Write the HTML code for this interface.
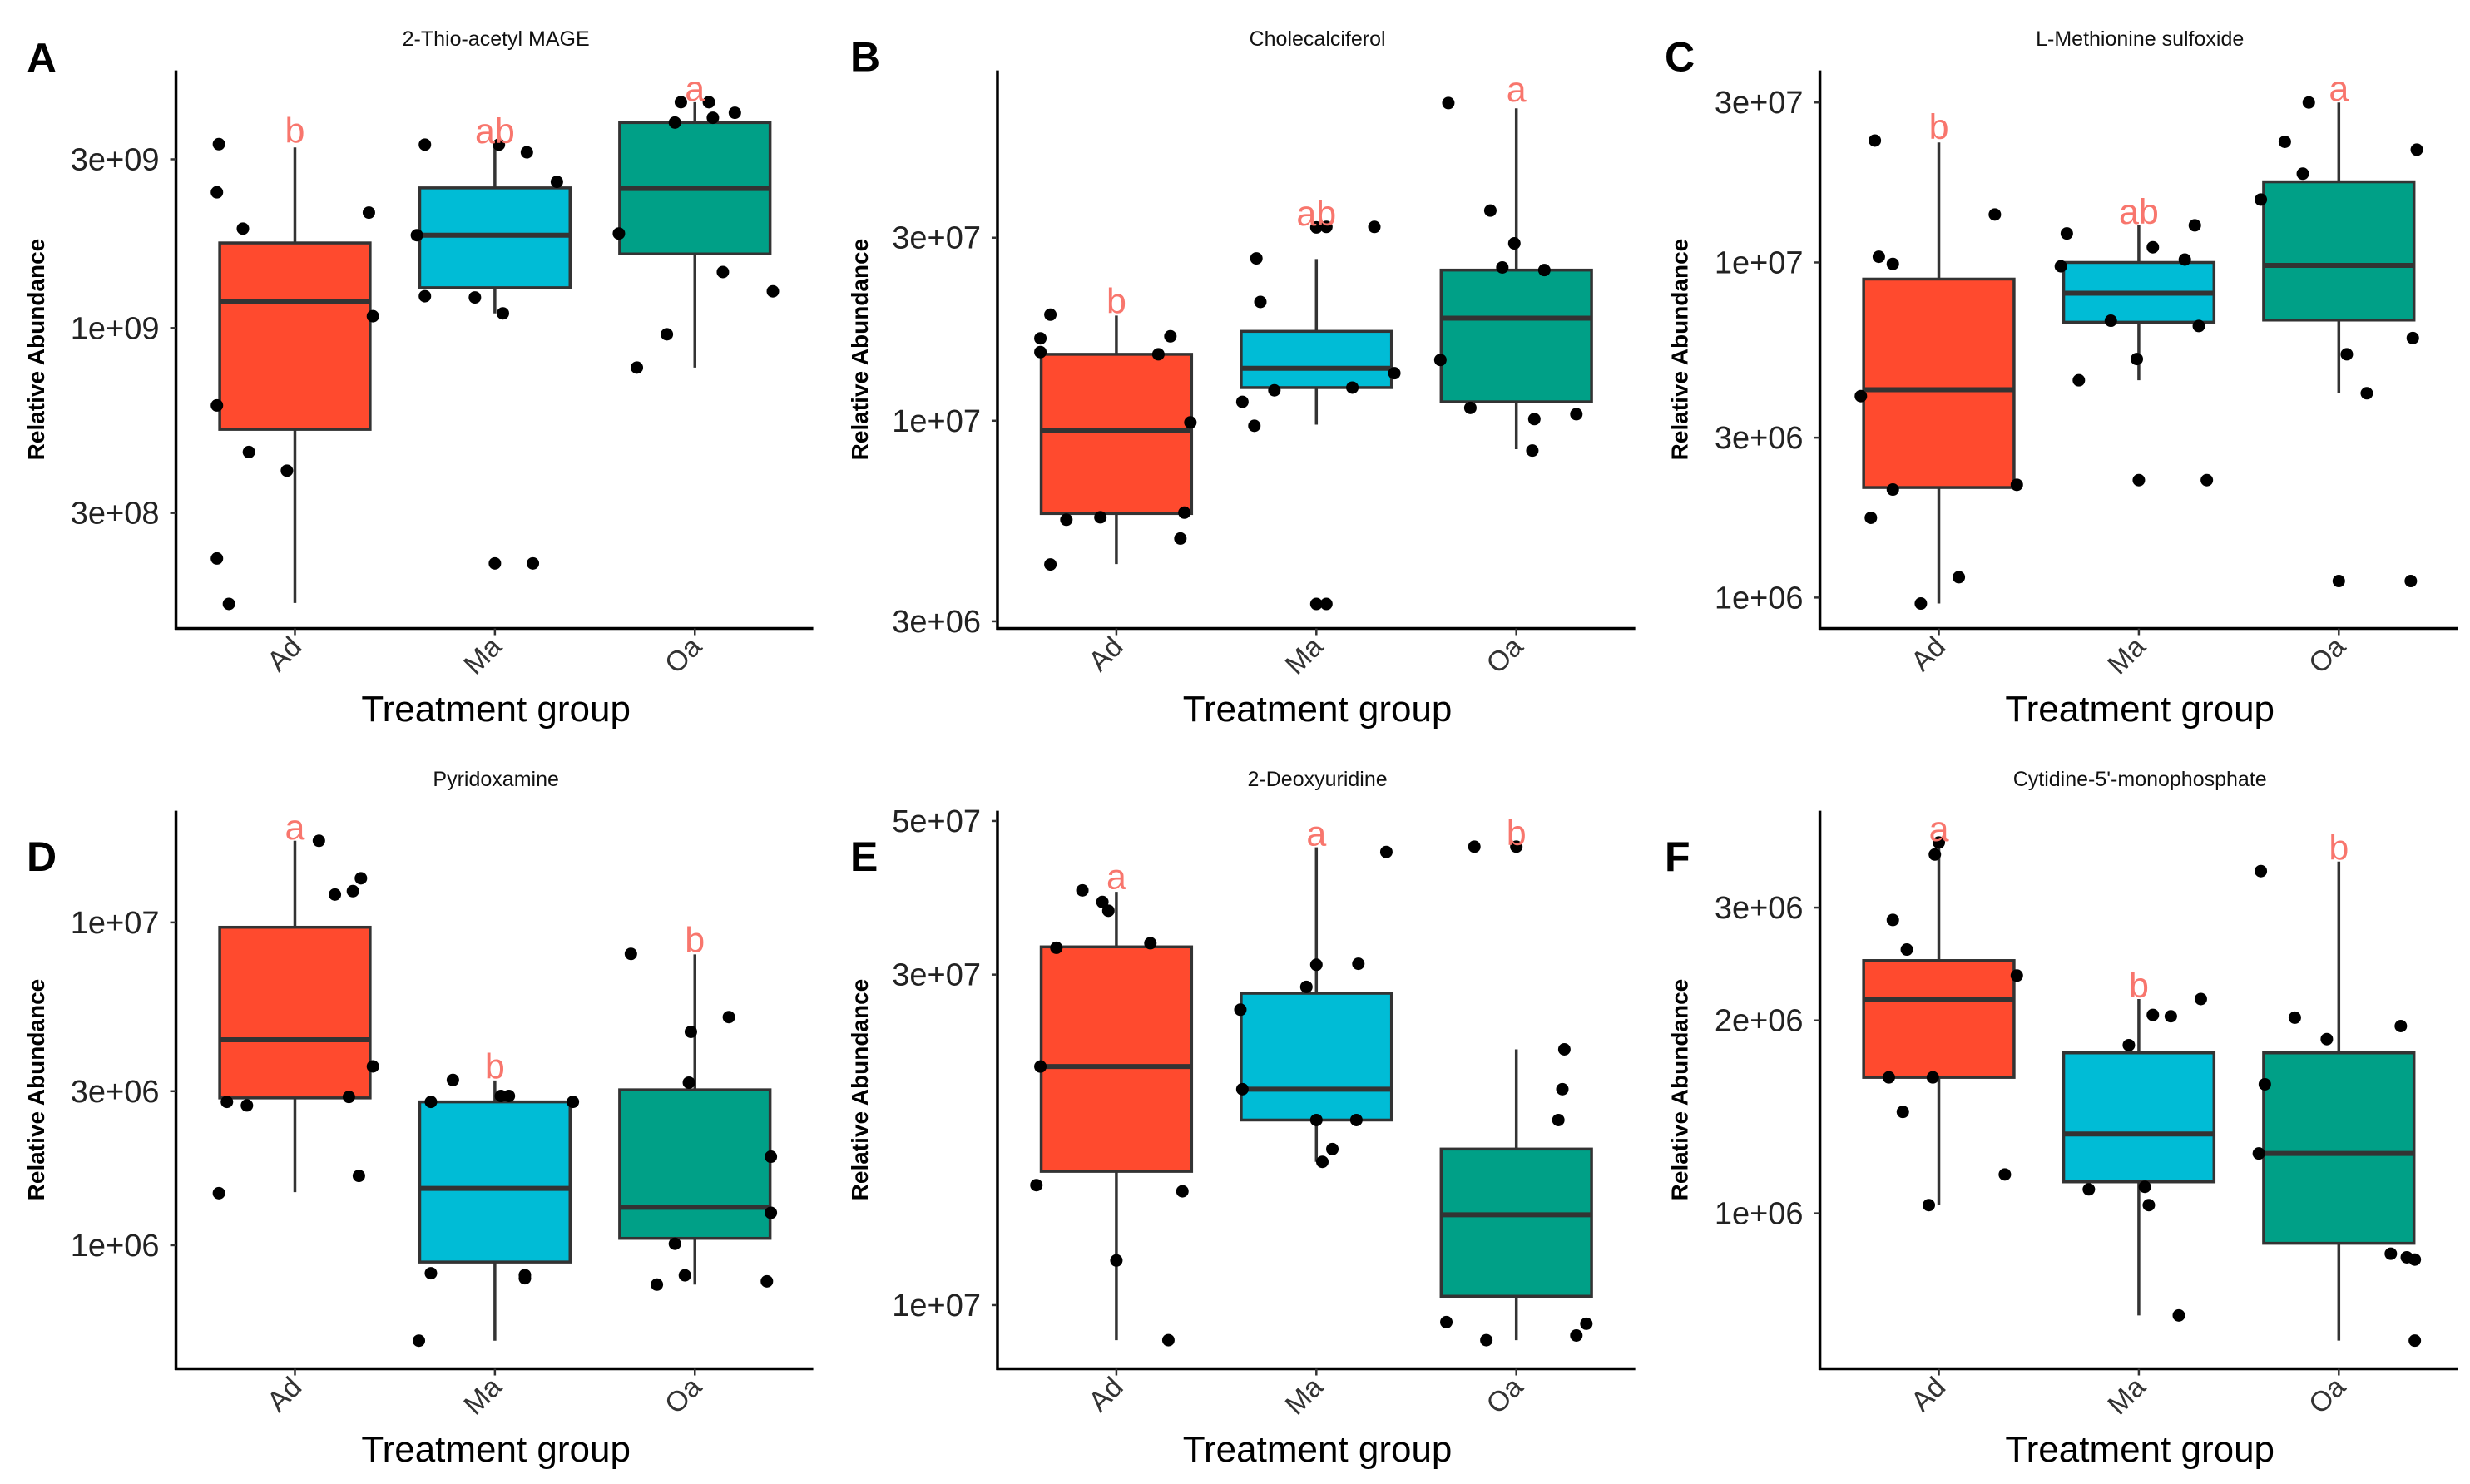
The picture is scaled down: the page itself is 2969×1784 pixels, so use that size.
<!DOCTYPE html>
<html><head><meta charset="utf-8">
<style>
html,body{margin:0;padding:0;background:#fff;}
svg{display:block;font-family:"Liberation Sans",Arial,sans-serif;}
</style></head>
<body>
<svg id="fig" width="2969" height="1784" viewBox="0 0 2969 1784" xmlns="http://www.w3.org/2000/svg"></svg>
<script>
// ---------- DATA ----------
const categories = ['Ad','Ma','Oa'];
const groupColors = ['#FF4A2E','#00BCD6','#00A087'];

// box stats per group: [whiskerLow, q1, median, q3, whiskerHigh]
const A_box = [[1.67e8,5.17e8,1.19e9,1.74e9,3.24e9],[1.10e9,1.30e9,1.83e9,2.49e9,3.24e9],[7.73e8,1.62e9,2.48e9,3.81e9,4.35e9]];
const A_ad = [3.31e9,2.42e9,1.91e9,2.12e9,1.08e9,6.04e8,4.46e8,3.95e8,2.23e8,1.66e8];
const A_ad_jit = [-0.38,-0.39,-0.26,0.37,0.39,-0.39,-0.23,-0.04,-0.39,-0.33];
const A_ma = [3.3e9,3.3e9,3.14e9,2.59e9,1.83e9,1.23e9,1.22e9,1.10e9,2.16e8,2.16e8];
const A_ma_jit = [-0.35,0.02,0.16,0.31,-0.39,-0.35,-0.10,0.04,0,0.19];
const A_oa = [4.35e9,4.35e9,4.06e9,3.93e9,3.81e9,1.85e9,1.44e9,1.27e9,9.6e8,7.73e8];
const A_oa_jit = [-0.07,0.07,0.20,0.09,-0.10,-0.38,0.14,0.39,-0.14,-0.29];
const A_sig = ['b','ab','a'];

const B_box = [[4.23e6,5.73e6,9.45e6,1.49e7,1.88e7],[9.77e6,1.22e7,1.37e7,1.71e7,2.64e7],[8.43e6,1.12e7,1.85e7,2.47e7,6.52e7]];
const B_ad = [1.89e7,1.64e7,1.51e7,1.66e7,1.49e7,9.9e6,5.52e6,5.6e6,5.76e6,4.93e6,4.22e6];
const B_ad_jit = [-0.33,-0.38,-0.38,0.27,0.21,0.37,-0.25,-0.08,0.34,0.32,-0.33];
const B_ma = [3.19e7,3.2e7,3.2e7,2.65e7,2.04e7,1.33e7,1.2e7,1.22e7,1.12e7,9.7e6,3.33e6,3.33e6];
const B_ma_jit = [0,0.05,0.29,-0.30,-0.28,0.39,-0.21,0.18,-0.37,-0.31,0,0.05];
const B_oa = [6.73e7,3.53e7,2.9e7,2.51e7,2.47e7,1.44e7,1.08e7,1.01e7,1.04e7,8.36e6];
const B_oa_jit = [-0.34,-0.13,-0.01,-0.07,0.14,-0.38,-0.23,0.09,0.30,0.08];
const B_sig = ['b','ab','a'];

const C_box = [[9.6e5,2.13e6,4.17e6,8.92e6,2.28e7],[4.45e6,6.63e6,8.09e6,1.0e7,1.29e7],[4.07e6,6.73e6,9.8e6,1.74e7,3.0e7]];
const C_ad = [2.31e7,1.39e7,1.04e7,9.9e6,3.99e6,2.1e6,2.17e6,1.73e6,1.15e6,9.6e5];
const C_ad_jit = [-0.32,0.28,-0.30,-0.23,-0.39,-0.23,0.39,-0.34,0.10,-0.09];
const C_ma = [1.22e7,1.29e7,1.11e7,1.02e7,9.74e6,6.7e6,6.46e6,5.15e6,4.45e6,2.24e6,2.24e6];
const C_ma_jit = [-0.36,0.28,0.07,0.23,-0.39,-0.14,0.30,-0.01,-0.30,0,0.34];
const C_oa = [3.0e7,2.29e7,2.17e7,1.84e7,1.54e7,5.95e6,5.32e6,4.07e6,1.12e6,1.12e6];
const C_oa_jit = [-0.15,-0.27,0.39,-0.18,-0.39,0.37,0.04,0.14,0,0.36];
const C_sig = ['b','ab','a'];

const D_box = [[1.46e6,2.86e6,4.33e6,9.66e6,1.79e7],[5.06e5,8.87e5,1.5e6,2.78e6,3.24e6],[7.55e5,1.05e6,1.31e6,3.03e6,7.96e6]];
const D_ad = [1.79e7,1.37e7,1.25e7,1.22e7,3.58e6,2.78e6,2.71e6,2.88e6,1.64e6,1.45e6];
const D_ad_jit = [0.12,0.33,0.29,0.20,0.39,-0.34,-0.24,0.27,0.32,-0.38];
const D_ma = [3.25e6,2.9e6,2.9e6,2.78e6,2.78e6,8.19e5,8.08e5,7.9e5,5.06e5];
const D_ma_jit = [-0.21,0.03,0.07,-0.32,0.39,-0.32,0.15,0.15,-0.38];
const D_oa = [7.99e6,5.09e6,4.58e6,3.19e6,1.88e6,1.26e6,1.01e6,8.07e5,7.55e5,7.73e5];
const D_oa_jit = [-0.32,0.17,-0.02,-0.03,0.38,0.38,-0.10,-0.05,-0.19,0.36];
const D_sig = ['a','b','b'];

const E_box = [[8.9e6,1.56e7,2.21e7,3.29e7,3.95e7],[1.61e7,1.85e7,2.05e7,2.82e7,4.58e7],[8.9e6,1.03e7,1.35e7,1.68e7,2.34e7]];
const E_ad = [3.97e7,3.82e7,3.71e7,3.33e7,3.28e7,2.21e7,1.49e7,1.46e7,1.16e7,8.9e6];
const E_ad_jit = [-0.17,-0.07,-0.04,0.17,-0.30,-0.38,-0.40,0.33,0,0.26];
const E_ma = [4.51e7,3.1e7,3.11e7,2.88e7,2.67e7,2.05e7,1.85e7,1.85e7,1.68e7,1.61e7];
const E_ma_jit = [0.35,0,0.21,-0.05,-0.38,-0.37,0,0.20,0.08,0.03];
const E_oa = [4.59e7,4.59e7,2.34e7,2.05e7,1.85e7,9.45e6,9.4e6,9.04e6,8.9e6];
const E_oa_jit = [-0.21,0,0.24,0.23,0.21,-0.35,0.35,0.30,-0.15];
const E_sig = ['a','a','b'];

const F_box = [[1.03e6,1.63e6,2.16e6,2.48e6,3.79e6],[6.93e5,1.12e6,1.33e6,1.78e6,2.16e6],[6.33e5,8.98e5,1.24e6,1.78e6,3.54e6]];
const F_ad = [3.79e6,3.63e6,2.87e6,2.58e6,2.35e6,1.63e6,1.63e6,1.44e6,1.15e6,1.03e6];
const F_ad_jit = [0,-0.02,-0.23,-0.16,0.39,-0.25,-0.03,-0.18,0.33,-0.05];
const F_ma = [2.16e6,2.04e6,2.03e6,1.83e6,1.09e6,1.1e6,1.03e6,6.93e5];
const F_ma_jit = [0.31,0.07,0.16,-0.05,-0.25,0.03,0.05,0.20];
const F_oa = [3.42e6,2.02e6,1.96e6,1.87e6,1.59e6,1.24e6,8.65e5,8.54e5,8.47e5,6.33e5];
const F_oa_jit = [-0.39,-0.22,0.31,-0.06,-0.37,-0.40,0.26,0.34,0.38,0.38];
const F_sig = ['a','b','b'];

const A_ticks=[3e9,1e9,3e8], A_tickLabels=['3e+09','1e+09','3e+08'];
const B_ticks=[3e7,1e7,3e6], B_tickLabels=['3e+07','1e+07','3e+06'];
const C_ticks=[3e7,1e7,3e6,1e6], C_tickLabels=['3e+07','1e+07','3e+06','1e+06'];
const D_ticks=[1e7,3e6,1e6], D_tickLabels=['1e+07','3e+06','1e+06'];
const E_ticks=[5e7,3e7,1e7], E_tickLabels=['5e+07','3e+07','1e+07'];
const F_ticks=[3e6,2e6,1e6], F_tickLabels=['3e+06','2e+06','1e+06'];

// ---------- LAYOUT (zoom units) ----------
const SX = 1/1.56;
const SY = 0.5715;
const panels = [
 {id:'A',title:'2-Thio-acetyl MAGE',ox:0,oy:0,axZ:330,rightZ:1525,letterZ:152,refV:1e9,refZ:690,kz:744,box:A_box,pts:[A_ad,A_ma,A_oa],jit:[A_ad_jit,A_ma_jit,A_oa_jit],sig:A_sig,ticks:A_ticks,tl:A_tickLabels},
 {id:'B',title:'Cholecalciferol',ox:990,oy:0,axZ:326,rightZ:1522,letterZ:150,refV:1e7,refZ:885,kz:807,box:B_box,pts:[B_ad,B_ma,B_oa],jit:[B_ad_jit,B_ma_jit,B_oa_jit],sig:B_sig,ticks:B_ticks,tl:B_tickLabels},
 {id:'C',title:'L-Methionine sulfoxide',ox:1969,oy:0,axZ:341,rightZ:1538,letterZ:150,refV:1e7,refZ:552,kz:705,box:C_box,pts:[C_ad,C_ma,C_oa],jit:[C_ad_jit,C_ma_jit,C_oa_jit],sig:C_sig,ticks:C_ticks,tl:C_tickLabels},
 {id:'D',title:'Pyridoxamine',ox:0,oy:890,axZ:330,rightZ:1525,letterZ:275,refV:1e6,refZ:1062,kz:679,box:D_box,pts:[D_ad,D_ma,D_oa],jit:[D_ad_jit,D_ma_jit,D_oa_jit],sig:D_sig,ticks:D_ticks,tl:D_tickLabels},
 {id:'E',title:'2-Deoxyuridine',ox:990,oy:890,axZ:326,rightZ:1522,letterZ:275,refV:1e7,refZ:1188,kz:1457,box:E_box,pts:[E_ad,E_ma,E_oa],jit:[E_ad_jit,E_ma_jit,E_oa_jit],sig:E_sig,ticks:E_ticks,tl:E_tickLabels},
 {id:'F',title:"Cytidine-5'-monophosphate",ox:1969,oy:890,axZ:341,rightZ:1538,letterZ:275,refV:1e6,refZ:995,kz:1348,box:F_box,pts:[F_ad,F_ma,F_oa],jit:[F_ad_jit,F_ma_jit,F_oa_jit],sig:F_sig,ticks:F_ticks,tl:F_tickLabels}
];

const NS='http://www.w3.org/2000/svg';
const svg=document.getElementById('fig');
function mk(tag,attrs,parent){const e=document.createElementNS(NS,tag);for(const k in attrs)e.setAttribute(k,attrs[k]);(parent||svg).appendChild(e);return e;}

panels.forEach(p=>{
  const g=mk('g',{transform:`translate(${p.ox},${p.oy})`});
  
  
  const yS=v=>(p.refZ+(Math.log10(p.refV)-Math.log10(v))*p.kz)*SY;
  const xS=i=>(p.axZ+223+i*375)*SX;
  const axX=p.axZ*SX, top=148*SY, bot=1322*SY, right=p.rightZ*SX;
  const halfW=141*SX, catW=375*SX;
  const cxMid=(p.axZ+600)*SX;

  const L=mk('text',{x:50*SX,y:p.letterZ*SY,'font-size':50,'font-weight':'bold',fill:'#000'},g);
  L.textContent=p.id;
  
  
  const T=mk('text',{x:cxMid,y:96*SY,'font-size':25,'text-anchor':'middle',fill:'#111'},g);
  T.textContent=p.title;
  
  

  p.box.forEach((b,i)=>{
    const cx=xS(i);
    const bg=mk('g',{},g);
    
    
    mk('line',{x1:cx,x2:cx,y1:yS(b[4]),y2:yS(b[0]),stroke:'#333','stroke-width':3.5},bg);
    mk('rect',{x:cx-halfW,y:yS(b[3]),width:2*halfW,height:yS(b[1])-yS(b[3]),fill:groupColors[i],stroke:'#333','stroke-width':3.5},bg);
    mk('line',{x1:cx-halfW,x2:cx+halfW,y1:yS(b[2]),y2:yS(b[2]),stroke:'#333','stroke-width':6},bg);
  });
  p.pts.forEach((arr,i)=>{
    arr.forEach((v,j)=>{
      const c=mk('circle',{cx:xS(i)+p.jit[i][j]*catW,cy:yS(v),r:7.5,fill:'#000'},g);
      
      
    });
    const mx=Math.max(Math.max(...arr),p.box[i][4]);
    const s=mk('text',{x:xS(i),y:yS(mx)-2,'font-size':43,'text-anchor':'middle',fill:'#F8766D'},g);
    s.textContent=p.sig[i];
    
    
  });

  const ya=mk('line',{x1:axX,x2:axX,y1:top,y2:bot+1.5,stroke:'#000','stroke-width':3.5},g);
  
  
  const xa=mk('line',{x1:axX-1.5,x2:right,y1:bot,y2:bot,stroke:'#000','stroke-width':3.5},g);
  
  
  p.ticks.forEach((t,k)=>{
    const y=yS(t);
    mk('line',{x1:axX-7,x2:axX,y1:y,y2:y,stroke:'#333','stroke-width':2.5},g);
    const tl=mk('text',{x:axX-20,y:y+13,'font-size':38,'text-anchor':'end',fill:'#222'},g);
    tl.textContent=p.tl[k];
    
    
  });
  categories.forEach((c,i)=>{
    const x=xS(i);
    mk('line',{x1:x,x2:x,y1:bot,y2:bot+8,stroke:'#333','stroke-width':2.5},g);
    const tx=mk('text',{x:x+10,y:bot+24,'font-size':34,'text-anchor':'end',fill:'#333',transform:`rotate(-45 ${x+10} ${bot+24})`},g);
    tx.textContent=c;
    
    
  });
  const xt=mk('text',{x:cxMid,y:1517*SY,'font-size':44,'text-anchor':'middle',fill:'#000'},g);
  xt.textContent='Treatment group';
  
  
  const ytx=(p.axZ>335?80:70)*SX+8;
  const ycy=735*SY;
  const yt=mk('text',{x:ytx,y:ycy,'font-size':28,'font-weight':'bold','text-anchor':'middle',fill:'#000',transform:`rotate(-90 ${ytx} ${ycy})`},g);
  yt.textContent='Relative Abundance';
  
  
});
</script>
</body></html>
